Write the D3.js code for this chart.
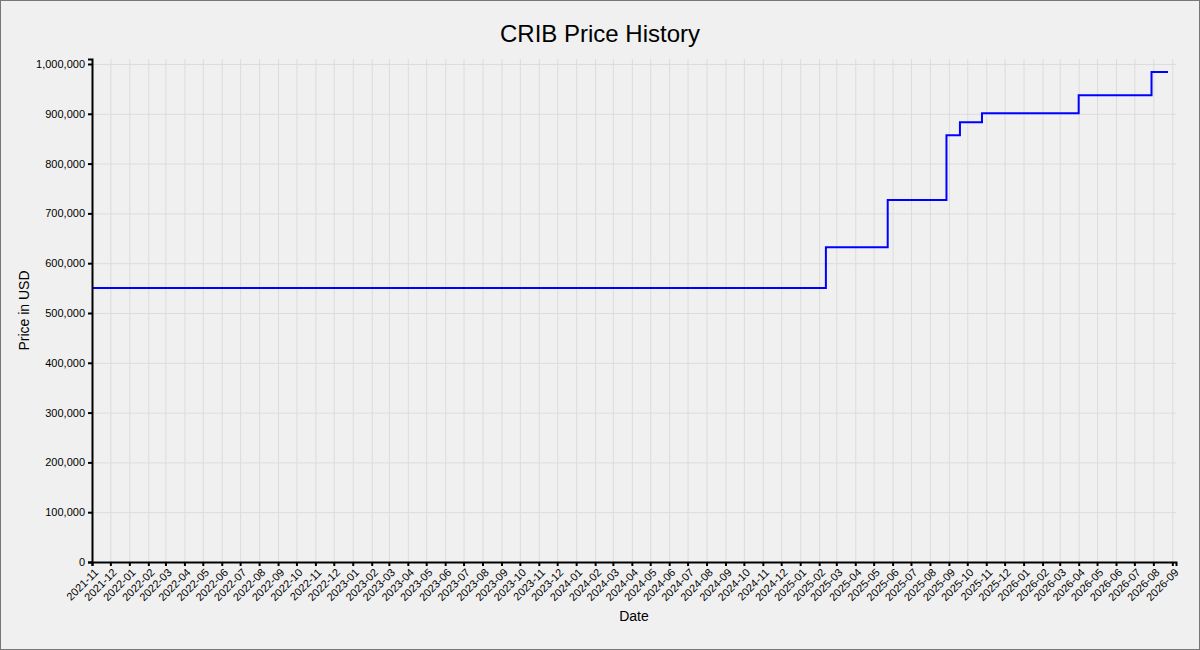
<!DOCTYPE html>
<html>
<head>
<meta charset="UTF-8">
<title>CRIB Price History</title>
<script src="https://d3js.org/d3.v7.min.js"></script>
<style>
  body {
    margin: 0;
    padding: 0;
    background: #f0f0f0;
    font-family: 'Liberation Sans', Arial, sans-serif;
    overflow: hidden;
  }
  svg {
    display: block;
  }
  .grid line {
    stroke: #dcdcdc;
    stroke-width: 1;
  }
  .grid path {
    display: none;
  }
  .axis path, .axis line {
    stroke: #000;
    stroke-width: 2;
  }
  .axis text {
    font-size: 11px;
    fill: #000;
  }
</style>
</head>
<body>
<div id="chart"></div>
<script>
  // price changes (step after each date)
  const dates = ["2021-11-01", "2025-02-12", "2025-05-24", "2025-08-28", "2025-09-19",
                 "2025-10-25", "2026-04-01", "2026-07-29", "2026-08-25"];
  const prices = [550000, 632000, 727000, 857000, 883000, 901000, 937000, 984000, 984000];
  const yTicks = [0, 100000, 200000, 300000, 400000, 500000, 600000, 700000, 800000, 900000, 1000000];

  const width = 1200, height = 650;
  const margin = { top: 59, right: 24, bottom: 88, left: 92 };

  const parse = d3.timeParse("%Y-%m-%d");
  const data = dates.map((d, i) => ({ date: parse(d), price: prices[i] }));

  const svg = d3.select("#chart").append("svg")
    .attr("width", width)
    .attr("height", height);

  svg.append("rect")
    .attr("x", 0.5).attr("y", 0.5)
    .attr("width", width - 1).attr("height", height - 1)
    .attr("fill", "#f0f0f0")
    .attr("stroke", "#777");

  const x = d3.scaleTime()
    .domain([parse("2021-11-01"), parse("2026-09-07")])
    .range([margin.left, width - margin.right]);

  const y = d3.scaleLinear()
    .domain([0, 1010000])
    .range([height - margin.bottom, margin.top]);

  const monthTicks = d3.timeMonth.range(parse("2021-11-01"), parse("2026-09-02"));

  // grid
  svg.append("g")
    .attr("class", "grid")
    .attr("transform", `translate(0,${height - margin.bottom})`)
    .call(d3.axisBottom(x).tickValues(monthTicks).tickSize(-(height - margin.top - margin.bottom)).tickFormat(""));

  svg.append("g")
    .attr("class", "grid")
    .attr("transform", `translate(${margin.left},0)`)
    .call(d3.axisLeft(y).tickValues(yTicks).tickSize(-(width - margin.left - margin.right)).tickFormat(""));

  // line
  const line = d3.line()
    .x(d => x(d.date))
    .y(d => y(d.price))
    .curve(d3.curveStepAfter);

  svg.append("path")
    .datum(data)
    .attr("fill", "none")
    .attr("stroke", "#0000ff")
    .attr("stroke-width", 2)
    .attr("d", line);

  // axes
  const xAxis = svg.append("g")
    .attr("class", "axis")
    .attr("transform", `translate(0,${height - margin.bottom})`)
    .call(d3.axisBottom(x).tickValues(monthTicks).tickSize(4).tickFormat(d3.timeFormat("%Y-%m")));

  xAxis.selectAll("text")
    .attr("text-anchor", "end")
    .attr("dx", "-0.3em")
    .attr("dy", "0.5em")
    .attr("transform", "rotate(-45)");

  svg.append("g")
    .attr("class", "axis")
    .attr("transform", `translate(${margin.left},0)`)
    .call(d3.axisLeft(y).tickValues(yTicks).tickSize(4).tickFormat(d3.format(",")));

  // labels
  svg.append("text")
    .attr("x", width / 2)
    .attr("y", 42)
    .attr("text-anchor", "middle")
    .style("font-size", "24px")
    .text("CRIB Price History");

  svg.append("text")
    .attr("x", (margin.left + width - margin.right) / 2)
    .attr("y", 621)
    .attr("text-anchor", "middle")
    .style("font-size", "14px")
    .text("Date");

  svg.append("text")
    .attr("transform", `translate(29,${(margin.top + height - margin.bottom) / 2}) rotate(-90)`)
    .attr("text-anchor", "middle")
    .style("font-size", "14px")
    .text("Price in USD");
</script>
</body>
</html>
